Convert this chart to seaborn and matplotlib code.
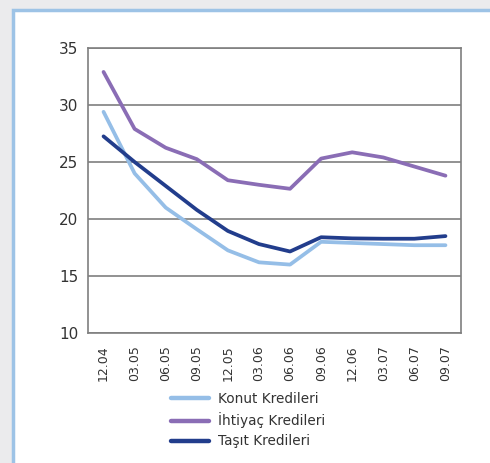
import numpy as np
import pandas as pd
import matplotlib
matplotlib.use("Agg")
import matplotlib.pyplot as plt
from matplotlib.patches import Rectangle
import seaborn as sns

periods = ["12.04", "03.05", "06.05", "09.05", "12.05", "03.06",
           "06.06", "09.06", "12.06", "03.07", "06.07", "09.07"]
konut = [29.4, 24.0, 21.0, 19.1, 17.25, 16.2, 16.0, 18.0, 17.9, 17.8, 17.7, 17.7]
ihtiyac = [32.9, 27.9, 26.25, 25.25, 23.4, 23.0, 22.65, 25.3, 25.85, 25.4, 24.6, 23.8]
tasit = [27.25, 25.0, 22.9, 20.8, 18.95, 17.8, 17.15, 18.4, 18.3, 18.27, 18.27, 18.5]

series_names = ["Konut Kredileri", "İhtiyaç Kredileri", "Taşıt Kredileri"]
colors = ["#95bee7", "#8a6db5", "#223d8c"]

df = pd.DataFrame({
    "period": periods * 3,
    "idx": list(range(len(periods))) * 3,
    "value": konut + ihtiyac + tasit,
    "series": [series_names[0]] * 12 + [series_names[1]] * 12 + [series_names[2]] * 12,
})

sns.set_style("white")
plt.rcParams["font.family"] = ["DejaVu Sans"]

fig = plt.figure(figsize=(4.90, 4.63), dpi=100)
fig.patch.set_facecolor("#ebebed")
# white framed panel
fig.patches.append(Rectangle((12.5 / 490, -0.05), 1.1, 1 - 10.5 / 463 + 0.05,
                             transform=fig.transFigure, facecolor="white",
                             edgecolor="#9dc3e6", linewidth=2.5, zorder=0))

ax = fig.add_axes([88 / 490, 1 - 333 / 463, (461 - 88) / 490, (333 - 48) / 463])
ax.set_zorder(2)
ax.set_facecolor("white")

sns.lineplot(data=df, x="idx", y="value", hue="series", palette=colors,
             hue_order=series_names, linewidth=2.7, ax=ax, sort=False,
             legend=False)

ax.set_xlim(-0.5, len(periods) - 0.5)
ax.set_ylim(10, 35)
ax.set_yticks([10, 15, 20, 25, 30, 35])
ax.set_xticks(range(len(periods)))
ax.set_xticklabels(periods, rotation=90)
ax.set_xticks(np.arange(-0.5, len(periods), 1.0), minor=True)
ax.tick_params(axis="x", which="major", length=0, pad=9, labelsize=9, colors="#333333")
ax.tick_params(axis="x", which="minor", length=4, width=1, color="#7f7f7f", direction="out")
ax.tick_params(axis="y", which="major", length=4, width=1, color="#7f7f7f",
               direction="out", labelsize=11, labelcolor="#333333", pad=3)
ax.set_xlabel("")
ax.set_ylabel("")
ax.yaxis.grid(True, color="#7f7f7f", linewidth=1.2)
ax.set_axisbelow(True)
for s in ax.spines.values():
    s.set_visible(True)
    s.set_color("#7f7f7f")
    s.set_linewidth(1.2)

handles = [plt.Line2D([], [], color=c, linewidth=3.2) for c in colors]
leg = fig.legend(handles, series_names, loc="upper left",
                 bbox_to_anchor=(159 / 490, 1 - 380 / 463), frameon=False,
                 fontsize=9.8, handlelength=2.8, handletextpad=0.6,
                 labelspacing=0.45, labelcolor="#333333")
leg.set_zorder(3)

fig.savefig("out.png", dpi=100, facecolor=fig.get_facecolor())
